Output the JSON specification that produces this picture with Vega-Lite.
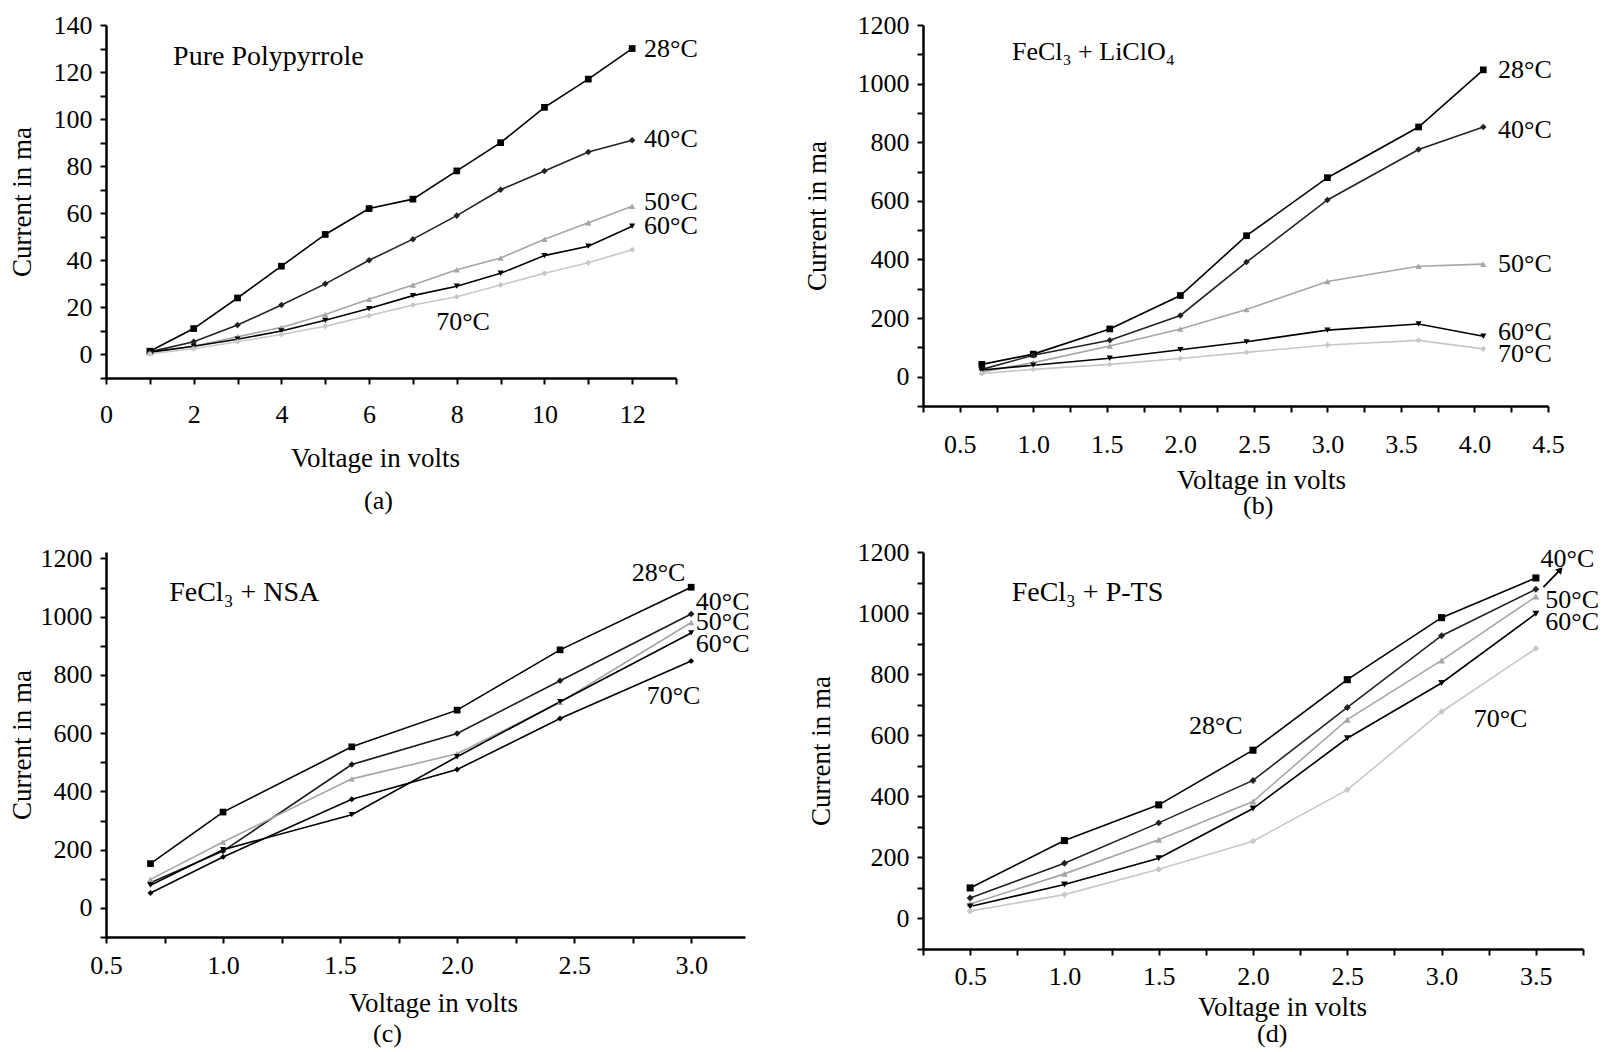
{
  "$schema": "https://vega.github.io/schema/vega-lite/v6.json",
  "padding": {"left": 8, "top": 12, "right": 5, "bottom": 5},
  "columns": 2,
  "bounds": "flush",
  "spacing": {"row": 146, "column": 178},
  "datasets": {
    "a": [
      {"t": "28°C", "v": 1, "i": 1.4}, {"t": "28°C", "v": 2, "i": 11}, {"t": "28°C", "v": 3, "i": 24}, {"t": "28°C", "v": 4, "i": 37.5},
      {"t": "28°C", "v": 5, "i": 51}, {"t": "28°C", "v": 6, "i": 62}, {"t": "28°C", "v": 7, "i": 66}, {"t": "28°C", "v": 8, "i": 78},
      {"t": "28°C", "v": 9, "i": 90}, {"t": "28°C", "v": 10, "i": 105}, {"t": "28°C", "v": 11, "i": 117}, {"t": "28°C", "v": 12, "i": 130},
      {"t": "40°C", "v": 1, "i": 1.1}, {"t": "40°C", "v": 2, "i": 5.4}, {"t": "40°C", "v": 3, "i": 12.5}, {"t": "40°C", "v": 4, "i": 21},
      {"t": "40°C", "v": 5, "i": 30}, {"t": "40°C", "v": 6, "i": 40}, {"t": "40°C", "v": 7, "i": 49}, {"t": "40°C", "v": 8, "i": 59},
      {"t": "40°C", "v": 9, "i": 70}, {"t": "40°C", "v": 10, "i": 78}, {"t": "40°C", "v": 11, "i": 86}, {"t": "40°C", "v": 12, "i": 91},
      {"t": "50°C", "v": 1, "i": 0.7}, {"t": "50°C", "v": 2, "i": 3.5}, {"t": "50°C", "v": 3, "i": 7.5}, {"t": "50°C", "v": 4, "i": 11.5},
      {"t": "50°C", "v": 5, "i": 17}, {"t": "50°C", "v": 6, "i": 23.5}, {"t": "50°C", "v": 7, "i": 29.5}, {"t": "50°C", "v": 8, "i": 36},
      {"t": "50°C", "v": 9, "i": 41}, {"t": "50°C", "v": 10, "i": 49}, {"t": "50°C", "v": 11, "i": 56}, {"t": "50°C", "v": 12, "i": 63},
      {"t": "60°C", "v": 1, "i": 1}, {"t": "60°C", "v": 2, "i": 3.5}, {"t": "60°C", "v": 3, "i": 6.5}, {"t": "60°C", "v": 4, "i": 10},
      {"t": "60°C", "v": 5, "i": 14.5}, {"t": "60°C", "v": 6, "i": 19.5}, {"t": "60°C", "v": 7, "i": 25}, {"t": "60°C", "v": 8, "i": 29},
      {"t": "60°C", "v": 9, "i": 34.5}, {"t": "60°C", "v": 10, "i": 42}, {"t": "60°C", "v": 11, "i": 46}, {"t": "60°C", "v": 12, "i": 54.5},
      {"t": "70°C", "v": 1, "i": 0.3}, {"t": "70°C", "v": 2, "i": 2.4}, {"t": "70°C", "v": 3, "i": 5.4}, {"t": "70°C", "v": 4, "i": 8.5},
      {"t": "70°C", "v": 5, "i": 12}, {"t": "70°C", "v": 6, "i": 16.5}, {"t": "70°C", "v": 7, "i": 21}, {"t": "70°C", "v": 8, "i": 24.5},
      {"t": "70°C", "v": 9, "i": 29.5}, {"t": "70°C", "v": 10, "i": 34.5}, {"t": "70°C", "v": 11, "i": 39}, {"t": "70°C", "v": 12, "i": 44.5}
    ],
    "b": [
      {"t": "28°C", "v": 0.65, "i": 42}, {"t": "28°C", "v": 1.0, "i": 77}, {"t": "28°C", "v": 1.52, "i": 163}, {"t": "28°C", "v": 2.0, "i": 277},
      {"t": "28°C", "v": 2.45, "i": 481}, {"t": "28°C", "v": 3.0, "i": 679}, {"t": "28°C", "v": 3.62, "i": 852}, {"t": "28°C", "v": 4.06, "i": 1047},
      {"t": "40°C", "v": 0.65, "i": 25}, {"t": "40°C", "v": 1.0, "i": 73}, {"t": "40°C", "v": 1.52, "i": 124}, {"t": "40°C", "v": 2.0, "i": 209},
      {"t": "40°C", "v": 2.45, "i": 391}, {"t": "40°C", "v": 3.0, "i": 603}, {"t": "40°C", "v": 3.62, "i": 775}, {"t": "40°C", "v": 4.06, "i": 852},
      {"t": "50°C", "v": 0.65, "i": 16}, {"t": "50°C", "v": 1.0, "i": 48}, {"t": "50°C", "v": 1.52, "i": 105}, {"t": "50°C", "v": 2.0, "i": 163},
      {"t": "50°C", "v": 2.45, "i": 229}, {"t": "50°C", "v": 3.0, "i": 325}, {"t": "50°C", "v": 3.62, "i": 377}, {"t": "50°C", "v": 4.06, "i": 384},
      {"t": "60°C", "v": 0.65, "i": 23}, {"t": "60°C", "v": 1.0, "i": 39}, {"t": "60°C", "v": 1.52, "i": 63}, {"t": "60°C", "v": 2.0, "i": 92},
      {"t": "60°C", "v": 2.45, "i": 119}, {"t": "60°C", "v": 3.0, "i": 159}, {"t": "60°C", "v": 3.62, "i": 180}, {"t": "60°C", "v": 4.06, "i": 138},
      {"t": "70°C", "v": 0.65, "i": 11}, {"t": "70°C", "v": 1.0, "i": 25}, {"t": "70°C", "v": 1.52, "i": 42}, {"t": "70°C", "v": 2.0, "i": 62},
      {"t": "70°C", "v": 2.45, "i": 83}, {"t": "70°C", "v": 3.0, "i": 108}, {"t": "70°C", "v": 3.62, "i": 124}, {"t": "70°C", "v": 4.06, "i": 95}
    ],
    "c": [
      {"t": "28°C", "v": 0.69, "i": 152}, {"t": "28°C", "v": 1.0, "i": 329}, {"t": "28°C", "v": 1.55, "i": 553},
      {"t": "28°C", "v": 2.0, "i": 679}, {"t": "28°C", "v": 2.44, "i": 886}, {"t": "28°C", "v": 3.0, "i": 1101},
      {"t": "40°C", "v": 0.69, "i": 86}, {"t": "40°C", "v": 1.0, "i": 195}, {"t": "40°C", "v": 1.55, "i": 492},
      {"t": "40°C", "v": 2.0, "i": 599}, {"t": "40°C", "v": 2.44, "i": 780}, {"t": "40°C", "v": 3.0, "i": 1009},
      {"t": "50°C", "v": 0.69, "i": 98}, {"t": "50°C", "v": 1.0, "i": 226}, {"t": "50°C", "v": 1.55, "i": 443},
      {"t": "50°C", "v": 2.0, "i": 529}, {"t": "50°C", "v": 2.44, "i": 706}, {"t": "50°C", "v": 3.0, "i": 980},
      {"t": "60°C", "v": 0.69, "i": 78}, {"t": "60°C", "v": 1.0, "i": 200}, {"t": "60°C", "v": 1.55, "i": 320},
      {"t": "60°C", "v": 2.0, "i": 519}, {"t": "60°C", "v": 2.44, "i": 708}, {"t": "60°C", "v": 3.0, "i": 944},
      {"t": "70°C", "v": 0.69, "i": 51}, {"t": "70°C", "v": 1.0, "i": 175}, {"t": "70°C", "v": 1.55, "i": 373},
      {"t": "70°C", "v": 2.0, "i": 475}, {"t": "70°C", "v": 2.44, "i": 650}, {"t": "70°C", "v": 3.0, "i": 848}
    ],
    "d": [
      {"t": "28°C", "v": 0.5, "i": 100}, {"t": "28°C", "v": 1.0, "i": 255}, {"t": "28°C", "v": 1.5, "i": 372}, {"t": "28°C", "v": 2.0, "i": 551},
      {"t": "28°C", "v": 2.5, "i": 782}, {"t": "28°C", "v": 3.0, "i": 985}, {"t": "28°C", "v": 3.5, "i": 1115},
      {"t": "40°C", "v": 0.5, "i": 67}, {"t": "40°C", "v": 1.0, "i": 181}, {"t": "40°C", "v": 1.5, "i": 313}, {"t": "40°C", "v": 2.0, "i": 452},
      {"t": "40°C", "v": 2.5, "i": 691}, {"t": "40°C", "v": 3.0, "i": 926}, {"t": "40°C", "v": 3.5, "i": 1078},
      {"t": "50°C", "v": 0.5, "i": 47}, {"t": "50°C", "v": 1.0, "i": 146}, {"t": "50°C", "v": 1.5, "i": 258}, {"t": "50°C", "v": 2.0, "i": 383},
      {"t": "50°C", "v": 2.5, "i": 651}, {"t": "50°C", "v": 3.0, "i": 845}, {"t": "50°C", "v": 3.5, "i": 1054},
      {"t": "60°C", "v": 0.5, "i": 39}, {"t": "60°C", "v": 1.0, "i": 111}, {"t": "60°C", "v": 1.5, "i": 197}, {"t": "60°C", "v": 2.0, "i": 360},
      {"t": "60°C", "v": 2.5, "i": 590}, {"t": "60°C", "v": 3.0, "i": 771}, {"t": "60°C", "v": 3.5, "i": 998},
      {"t": "70°C", "v": 0.5, "i": 24}, {"t": "70°C", "v": 1.0, "i": 78}, {"t": "70°C", "v": 1.5, "i": 161}, {"t": "70°C", "v": 2.0, "i": 253},
      {"t": "70°C", "v": 2.5, "i": 421}, {"t": "70°C", "v": 3.0, "i": 677}, {"t": "70°C", "v": 3.5, "i": 884}
    ],
    "a_name": [{"v": 1.53, "i": 126.6, "label": "Pure Polypyrrole"}],
    "a_lab": [
      {"v": 12.27, "i": 130, "label": "28°C"},
      {"v": 12.27, "i": 91.5, "label": "40°C"},
      {"v": 12.27, "i": 65, "label": "50°C"},
      {"v": 12.27, "i": 54.5, "label": "60°C"},
      {"v": 7.53, "i": 13.8, "label": "70°C"}
    ],
    "b_lab": [
      {"v": 0.855, "i": 1107, "label": "FeCl₃ + LiClO₄"},
      {"v": 4.16, "i": 1047, "label": "28°C"},
      {"v": 4.16, "i": 843, "label": "40°C"},
      {"v": 4.16, "i": 383, "label": "50°C"},
      {"v": 4.16, "i": 151, "label": "60°C"},
      {"v": 4.16, "i": 76, "label": "70°C"}
    ],
    "c_name": [{"v": 0.77, "i": 1081, "label": "FeCl₃ + NSA"}],
    "c_lab": [
      {"v": 2.746, "i": 1151, "label": "28°C"},
      {"v": 3.02, "i": 1052, "label": "40°C"},
      {"v": 3.02, "i": 982, "label": "50°C"},
      {"v": 3.02, "i": 906, "label": "60°C"},
      {"v": 2.81, "i": 727, "label": "70°C"}
    ],
    "d_name": [{"v": 0.72, "i": 1065, "label": "FeCl₃ + P-TS"}],
    "d_lab": [
      {"v": 3.525, "i": 1176, "label": "40°C"},
      {"v": 3.55, "i": 1043, "label": "50°C"},
      {"v": 3.55, "i": 970, "label": "60°C"},
      {"v": 1.66, "i": 629, "label": "28°C"},
      {"v": 3.17, "i": 654, "label": "70°C"}
    ],
    "d_arrow": [
      {"v": 3.54, "i": 1085, "v2": 3.63, "i2": 1142}
    ],
    "d_head": [
      {"v": 3.63, "i": 1142}
    ]
  },
  "concat": [
    {
      "width": 570,
      "height": 353,
      "title": {"text": "(a)", "orient": "bottom", "anchor": "start", "frame": "group", "dx": 258, "offset": 17},
      "encoding": {
        "x": {"field": "v", "type": "quantitative", "scale": {"domain": [0, 13], "nice": false, "zero": false},
          "axis": {"title": "Voltage in volts", "titleX": 269, "values": [0, 1, 2, 3, 4, 5, 6, 7, 8, 9, 10, 11, 12, 13],
            "labelExpr": "datum.value % 2 == 0 ? format(datum.value, 'd') : ''", "labelPadding": 17, "titlePadding": 18}},
        "y": {"field": "i", "type": "quantitative", "scale": {"domain": [-10, 140], "nice": false, "zero": false},
          "axis": {"title": "Current in ma", "values": [-10, 0, 10, 20, 30, 40, 50, 60, 70, 80, 90, 100, 110, 120, 130, 140],
            "labelExpr": "datum.value % 20 == 0 ? format(datum.value, 'd') : ''", "labelPadding": 8, "titlePadding": 17}}
      },
      "layer": [
        {
          "data": {"name": "a"},
          "mark": {"type": "line", "strokeWidth": 1.6},
          "encoding": {
            "color": {"field": "t", "type": "nominal", "legend": null,
              "scale": {"domain": ["28°C", "40°C", "50°C", "60°C", "70°C"], "range": ["#000000", "#222222", "#a6a6a6", "#000000", "#c8c8c8"]}}
          }
        },
        {
          "data": {"name": "a"},
          "mark": {"type": "point", "filled": true, "opacity": 1},
          "encoding": {
            "color": {"field": "t", "type": "nominal", "legend": null},
            "shape": {"field": "t", "type": "nominal", "legend": null,
              "scale": {"domain": ["28°C", "40°C", "50°C", "60°C", "70°C"], "range": ["square", "diamond", "triangle-up", "triangle-down", "diamond"]}},
            "size": {"field": "t", "type": "nominal", "legend": null,
              "scale": {"domain": ["28°C", "40°C", "50°C", "60°C", "70°C"], "range": [45, 35, 45, 45, 40]}}
          }
        },
        {
          "data": {"name": "a_name"},
          "mark": {"type": "text", "align": "left", "baseline": "middle", "fontSize": 28},
          "encoding": {"text": {"field": "label"}}
        },
        {
          "data": {"name": "a_lab"},
          "mark": {"type": "text", "align": "left", "baseline": "middle", "fontSize": 26},
          "encoding": {"text": {"field": "label"}}
        }
      ]
    },
    {
      "width": 625,
      "height": 381,
      "title": {"text": "(b)", "orient": "bottom", "anchor": "start", "frame": "group", "dx": 320, "offset": 0},
      "encoding": {
        "x": {"field": "v", "type": "quantitative", "scale": {"domain": [0.25, 4.5], "nice": false, "zero": false},
          "axis": {"title": "Voltage in volts", "titleX": 338, "values": [0.25, 0.5, 0.75, 1, 1.25, 1.5, 1.75, 2, 2.25, 2.5, 2.75, 3, 3.25, 3.5, 3.75, 4, 4.25, 4.5],
            "labelExpr": "datum.value % 0.5 == 0 ? format(datum.value, '.1f') : ''", "labelPadding": 19, "titlePadding": 10}},
        "y": {"field": "i", "type": "quantitative", "scale": {"domain": [-100, 1200], "nice": false, "zero": false},
          "axis": {"title": "Current in ma", "values": [-100, 0, 100, 200, 300, 400, 500, 600, 700, 800, 900, 1000, 1100, 1200],
            "labelExpr": "datum.value % 200 == 0 ? format(datum.value, 'd') : ''", "labelPadding": 8, "titlePadding": 26}}
      },
      "layer": [
        {
          "data": {"name": "b"},
          "mark": {"type": "line", "strokeWidth": 1.6},
          "encoding": {
            "color": {"field": "t", "type": "nominal", "legend": null,
              "scale": {"domain": ["28°C", "40°C", "50°C", "60°C", "70°C"], "range": ["#000000", "#222222", "#a6a6a6", "#000000", "#c8c8c8"]}}
          }
        },
        {
          "data": {"name": "b"},
          "mark": {"type": "point", "filled": true, "opacity": 1},
          "encoding": {
            "color": {"field": "t", "type": "nominal", "legend": null},
            "shape": {"field": "t", "type": "nominal", "legend": null,
              "scale": {"domain": ["28°C", "40°C", "50°C", "60°C", "70°C"], "range": ["square", "diamond", "triangle-up", "triangle-down", "diamond"]}},
            "size": {"field": "t", "type": "nominal", "legend": null,
              "scale": {"domain": ["28°C", "40°C", "50°C", "60°C", "70°C"], "range": [45, 35, 45, 55, 40]}}
          }
        },
        {
          "data": {"name": "b_lab"},
          "mark": {"type": "text", "align": "left", "baseline": "middle", "fontSize": 26},
          "encoding": {"text": {"field": "label"}}
        }
      ]
    },
    {
      "width": 639,
      "height": 385,
      "title": {"text": "(c)", "orient": "bottom", "anchor": "start", "frame": "group", "dx": 267, "offset": 5},
      "encoding": {
        "x": {"field": "v", "type": "quantitative", "scale": {"domain": [0.5, 3.23], "nice": false, "zero": false},
          "axis": {"title": "Voltage in volts", "titleX": 327, "values": [0.5, 0.75, 1, 1.25, 1.5, 1.75, 2, 2.25, 2.5, 2.75, 3],
            "labelExpr": "datum.value % 0.5 == 0 ? format(datum.value, '.1f') : ''", "labelPadding": 9, "titlePadding": 12}},
        "y": {"field": "i", "type": "quantitative", "scale": {"domain": [-100, 1222], "nice": false, "zero": false},
          "axis": {"title": "Current in ma", "values": [-100, 0, 100, 200, 300, 400, 500, 600, 700, 800, 900, 1000, 1100, 1200],
            "labelExpr": "datum.value % 200 == 0 ? format(datum.value, 'd') : ''", "labelPadding": 8, "titlePadding": 4}}
      },
      "layer": [
        {
          "data": {"name": "c"},
          "mark": {"type": "line", "strokeWidth": 1.6},
          "encoding": {
            "color": {"field": "t", "type": "nominal", "legend": null,
              "scale": {"domain": ["28°C", "40°C", "50°C", "60°C", "70°C"], "range": ["#000000", "#1a1a1a", "#a6a6a6", "#000000", "#000000"]}}
          }
        },
        {
          "data": {"name": "c"},
          "mark": {"type": "point", "filled": true, "opacity": 1},
          "encoding": {
            "color": {"field": "t", "type": "nominal", "legend": null},
            "shape": {"field": "t", "type": "nominal", "legend": null,
              "scale": {"domain": ["28°C", "40°C", "50°C", "60°C", "70°C"], "range": ["square", "diamond", "triangle-up", "triangle-down", "diamond"]}},
            "size": {"field": "t", "type": "nominal", "legend": null,
              "scale": {"domain": ["28°C", "40°C", "50°C", "60°C", "70°C"], "range": [45, 35, 55, 55, 45]}}
          }
        },
        {
          "data": {"name": "c_name"},
          "mark": {"type": "text", "align": "left", "baseline": "middle", "fontSize": 28},
          "encoding": {"text": {"field": "label"}}
        },
        {
          "data": {"name": "c_lab"},
          "mark": {"type": "text", "align": "left", "baseline": "middle", "fontSize": 26},
          "encoding": {"text": {"field": "label"}}
        }
      ]
    },
    {
      "width": 660,
      "height": 397,
      "title": {"text": "(d)", "orient": "bottom", "anchor": "start", "frame": "group", "dx": 334, "offset": 1},
      "encoding": {
        "x": {"field": "v", "type": "quantitative", "scale": {"domain": [0.25, 3.75], "nice": false, "zero": false},
          "axis": {"title": "Voltage in volts", "titleX": 359, "values": [0.25, 0.5, 0.75, 1, 1.25, 1.5, 1.75, 2, 2.25, 2.5, 2.75, 3, 3.25, 3.5, 3.75],
            "labelExpr": "datum.value % 0.5 == 0 ? format(datum.value, '.1f') : ''", "labelPadding": 8, "titlePadding": 5}},
        "y": {"field": "i", "type": "quantitative", "scale": {"domain": [-100, 1200], "nice": false, "zero": false},
          "axis": {"title": "Current in ma", "values": [-100, 0, 100, 200, 300, 400, 500, 600, 700, 800, 900, 1000, 1100, 1200],
            "labelExpr": "datum.value % 200 == 0 ? format(datum.value, 'd') : ''", "labelPadding": 8, "titlePadding": 22}}
      },
      "layer": [
        {
          "data": {"name": "d"},
          "mark": {"type": "line", "strokeWidth": 1.6},
          "encoding": {
            "color": {"field": "t", "type": "nominal", "legend": null,
              "scale": {"domain": ["28°C", "40°C", "50°C", "60°C", "70°C"], "range": ["#000000", "#222222", "#a6a6a6", "#000000", "#c8c8c8"]}}
          }
        },
        {
          "data": {"name": "d"},
          "mark": {"type": "point", "filled": true, "opacity": 1},
          "encoding": {
            "color": {"field": "t", "type": "nominal", "legend": null},
            "shape": {"field": "t", "type": "nominal", "legend": null,
              "scale": {"domain": ["28°C", "40°C", "50°C", "60°C", "70°C"], "range": ["square", "diamond", "triangle-up", "triangle-down", "diamond"]}},
            "size": {"field": "t", "type": "nominal", "legend": null,
              "scale": {"domain": ["28°C", "40°C", "50°C", "60°C", "70°C"], "range": [50, 45, 50, 60, 50]}}
          }
        },
        {
          "data": {"name": "d_arrow"},
          "mark": {"type": "rule", "strokeWidth": 1.8, "color": "#000000"},
          "encoding": {
            "x2": {"field": "v2"},
            "y2": {"field": "i2"}
          }
        },
        {
          "data": {"name": "d_head"},
          "mark": {"type": "point", "shape": "triangle-up", "filled": true, "opacity": 1, "color": "#000000", "size": 60, "angle": 42},
          "encoding": {}
        },
        {
          "data": {"name": "d_name"},
          "mark": {"type": "text", "align": "left", "baseline": "middle", "fontSize": 28},
          "encoding": {"text": {"field": "label"}}
        },
        {
          "data": {"name": "d_lab"},
          "mark": {"type": "text", "align": "left", "baseline": "middle", "fontSize": 26},
          "encoding": {"text": {"field": "label"}}
        }
      ]
    }
  ],
  "resolve": {"scale": {"color": "independent", "shape": "independent", "size": "independent"}},
  "config": {
    "font": "Liberation Serif",
    "background": "#ffffff",
    "view": {"stroke": null},
    "axis": {
      "grid": false,
      "domainColor": "#000000",
      "domainWidth": 2.5,
      "tickColor": "#000000",
      "tickWidth": 2,
      "tickSize": 6,
      "labelFont": "Liberation Serif",
      "labelFontSize": 26,
      "labelColor": "#000000",
      "labelFlush": false,
      "labelOverlap": false,
      "titleFont": "Liberation Serif",
      "titleFontSize": 27,
      "titleFontWeight": "normal",
      "titleColor": "#000000"
    },
    "title": {"font": "Liberation Serif", "fontSize": 26, "fontWeight": "normal", "color": "#000000"},
    "text": {"font": "Liberation Serif", "fontSize": 26, "color": "#000000"}
  }
}
